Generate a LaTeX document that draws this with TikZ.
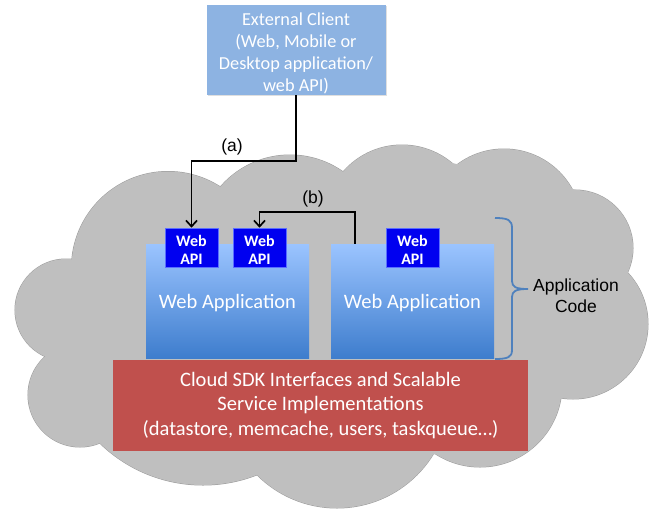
\documentclass[tikz,border=0pt]{standalone}
\usepackage{fontspec}
\setmainfont{Carlito}
\newfontfamily\arialf{Liberation Sans}
\usetikzlibrary{arrows.meta,shadows}
\definecolor{cloudgray}{RGB}{191,191,191}
\definecolor{cloudedge}{RGB}{155,155,155}
\definecolor{clientblue}{RGB}{141,179,226}
\definecolor{apptop}{RGB}{155,196,255}
\definecolor{appbot}{RGB}{62,125,205}
\definecolor{apiblue}{RGB}{0,0,240}
\definecolor{apiedge}{RGB}{90,110,255}
\definecolor{sdkred}{RGB}{192,80,77}
\definecolor{bracecol}{RGB}{79,129,189}
\begin{document}
\begin{tikzpicture}[x=1pt,y=-1pt,
  client/.style={fill=clientblue, minimum width=179pt, minimum height=90pt, inner sep=0pt, drop shadow={opacity=0.25, shadow xshift=1pt, shadow yshift=-1pt}},
  clienttext/.style={text=white, inner sep=0pt, align=center, font=\fontsize{18.3}{22}\selectfont},
  webapp/.style={top color=apptop, bottom color=appbot, minimum width=163pt, minimum height=114pt, inner sep=0pt, text=white, font=\fontsize{20.5}{24}\selectfont},
  apibox/.style={fill=apiblue, draw=apiedge, line width=0.6pt, minimum width=53pt, minimum height=39pt, inner sep=0pt, drop shadow={opacity=0.25, shadow xshift=1pt, shadow yshift=-1pt}},
  apitext/.style={text=white, inner sep=0pt, align=center, font=\bfseries\fontsize{16}{18.5}\selectfont},
  sdkbox/.style={fill=sdkred, minimum width=415pt, minimum height=91pt, inner sep=0pt, text=white, align=center, font=\fontsize{20.5}{24.5}\selectfont},
  lbl/.style={font=\arialf\fontsize{17.5}{21}\selectfont, align=center, inner sep=0pt},
  arr/.style={line width=1.7pt, -{Straight Barb[length=6pt,width=11pt]}},
  bracestyle/.style={draw=bracecol, line width=1.8pt}
]
\useasboundingbox (0,0) rectangle (651,509);
% cloud
\foreach \cx/\cy/\r in {66/310/51, 168/268/96.5, 290/247/92, 402/223/78, 504/227/78, 575/248/58, 573/324/75, 480/385/82, 337/395/113, 203/337/148, 80/395/52}
  \draw[cloudedge, line width=1pt] (\cx,\cy) circle[radius=\r pt];
\foreach \cx/\cy/\r in {66/310/51, 168/268/96.5, 290/247/92, 402/223/78, 504/227/78, 575/248/58, 573/324/75, 480/385/82, 337/395/113, 203/337/148, 80/395/52}
  \fill[cloudgray] (\cx,\cy) circle[radius=\r pt];
\fill[cloudgray] (72,258) -- (220,187) -- (343,172) -- (452,163) -- (577,190) -- (628,273) -- (563,398) -- (433,455) -- (257,475) -- (100,443) -- (45,358) -- cycle;

% external client
\node[client] (client) at (296,50) {};
\node[clienttext] (clienttxt) at (296,53) {External Client\\(Web, Mobile or\\Desktop application/\\web API)};

% web applications
\node[webapp] (app1) at (227.5,301) {\raisebox{-7.5pt}[0pt][0pt]{Web Application}};
\node[webapp] (app2) at (412.5,301) {\raisebox{-7.5pt}[0pt][0pt]{Web Application}};

% web api boxes
\node[apibox] (api1) at (191.5,247.5) {};
\node[apibox] (api2) at (259.5,247.5) {};
\node[apibox] (api3) at (412.5,247.5) {};
\node[apitext] (api1t) at (191.5,250) {Web\\API};
\node[apitext] (api2t) at (259.5,250) {Web\\API};
\node[apitext] (api3t) at (412.5,250) {Web\\API};

% SDK box
\node[sdkbox] (sdk) at (320.5,405.5) {Cloud SDK Interfaces and Scalable\\Service Implementations\\(datastore, memcache, users, taskqueue…)};

% arrows
\draw[arr] (client.south) -- ++(0,66) -| (api1.north);
\coordinate (bstart) at ([xshift=-57.5pt]app2.north);
\draw[arr] (bstart) -- ++(0,-32) -| (api2.north);
\node[lbl] (la) at (232,147) {(a)};
\node[lbl] (lb) at (313,199) {(b)};

% brace
\draw[bracestyle] (495,218) .. controls (508,218) and (512,220) .. (512,228) -- (512,281)
  .. controls (512,287) and (516,289) .. (528,289)
  .. controls (516,289) and (512,291) .. (512,297) -- (512,350)
  .. controls (512,357) and (508,359) .. (495,359);
\node[lbl] (appcode) at (576,296) {Application\\Code};
\end{tikzpicture}
\end{document}
